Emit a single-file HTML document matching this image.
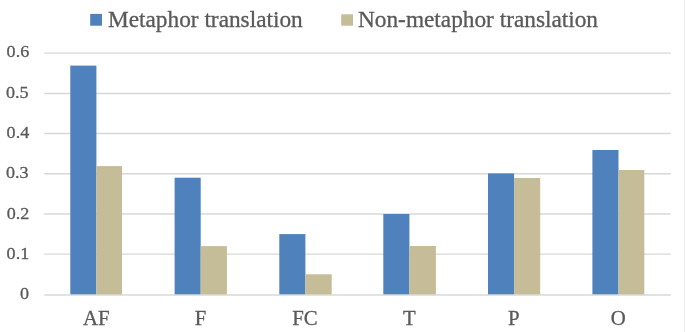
<!DOCTYPE html>
<html>
<head>
<meta charset="utf-8">
<title>Chart</title>
<style>
html,body{margin:0;padding:0;background:#fff;}
body{width:685px;height:332px;overflow:hidden;}
svg{display:block;}
text{font-family:"Liberation Serif",serif;fill:#595959;stroke:#595959;stroke-width:0.3px;}
.y{font-size:17.3px;text-anchor:end;}
.x{font-size:20.8px;text-anchor:middle;}
.l{font-size:23.3px;}
.g{stroke:#d8d8d8;stroke-width:1.45;}
</style>
</head>
<body>
<svg width="685" height="332" viewBox="0 0 685 332">
<rect x="684.2" y="0" width="0.8" height="332" fill="#ececec"/>
<line class="g" x1="44.3" x2="670.8" y1="254.1" y2="254.1"/>
<line class="g" x1="44.3" x2="670.8" y1="214.0" y2="214.0"/>
<line class="g" x1="44.3" x2="670.8" y1="173.7" y2="173.7"/>
<line class="g" x1="44.3" x2="670.8" y1="133.5" y2="133.5"/>
<line class="g" x1="44.3" x2="670.8" y1="93.4" y2="93.4"/>
<line class="g" x1="44.3" x2="670.8" y1="53.1" y2="53.1"/>
<rect x="70.3" y="65.6" width="26.1" height="229.4" fill="#4f81bd"/>
<rect x="96.4" y="166.1" width="25.6" height="128.9" fill="#c4bd97"/>
<rect x="174.6" y="177.7" width="26.1" height="117.3" fill="#4f81bd"/>
<rect x="200.7" y="246.1" width="26.2" height="48.9" fill="#c4bd97"/>
<rect x="279.3" y="234.1" width="26.1" height="60.9" fill="#4f81bd"/>
<rect x="305.4" y="274.3" width="26.3" height="20.7" fill="#c4bd97"/>
<rect x="383.3" y="214.0" width="26.1" height="81.0" fill="#4f81bd"/>
<rect x="409.4" y="246.0" width="26.5" height="49.0" fill="#c4bd97"/>
<rect x="488.0" y="173.4" width="26.1" height="121.6" fill="#4f81bd"/>
<rect x="514.1" y="178.0" width="26.1" height="117.0" fill="#c4bd97"/>
<rect x="592.4" y="150.0" width="26.1" height="145.0" fill="#4f81bd"/>
<rect x="618.5" y="170.0" width="25.8" height="125.0" fill="#c4bd97"/>
<line class="g" style="stroke-width:1.6" x1="44.3" x2="670.8" y1="295.0" y2="295.0"/>
<text class="y" transform="translate(29.0 299.1) scale(1.045 1)">0</text>
<text class="y" transform="translate(29.2 258.8) scale(1.045 1)">0.1</text>
<text class="y" transform="translate(29.4 218.5) scale(1.045 1)">0.2</text>
<text class="y" transform="translate(28.5 178.2) scale(1.045 1)">0.3</text>
<text class="y" transform="translate(29.2 137.9) scale(1.045 1)">0.4</text>
<text class="y" transform="translate(28.5 97.6) scale(1.045 1)">0.5</text>
<text class="y" transform="translate(29.2 57.3) scale(1.045 1)">0.6</text>
<text class="x" x="96.2" y="325.3">AF</text>
<text class="x" x="200.6" y="325.3">F</text>
<text class="x" x="305.0" y="325.3">FC</text>
<text class="x" x="409.4" y="325.3">T</text>
<text class="x" x="513.8" y="325.3">P</text>
<text class="x" x="618.2" y="325.3">O</text>
<rect x="90.2" y="13.9" width="11.8" height="11.8" fill="#4f81bd"/>
<text class="l" x="108" y="27.0">Metaphor translation</text>
<rect x="341.2" y="14.3" width="11.8" height="11.4" fill="#c4bd97"/>
<text class="l" x="358" y="27.0">Non-metaphor translation</text>
</svg>
</body>
</html>
